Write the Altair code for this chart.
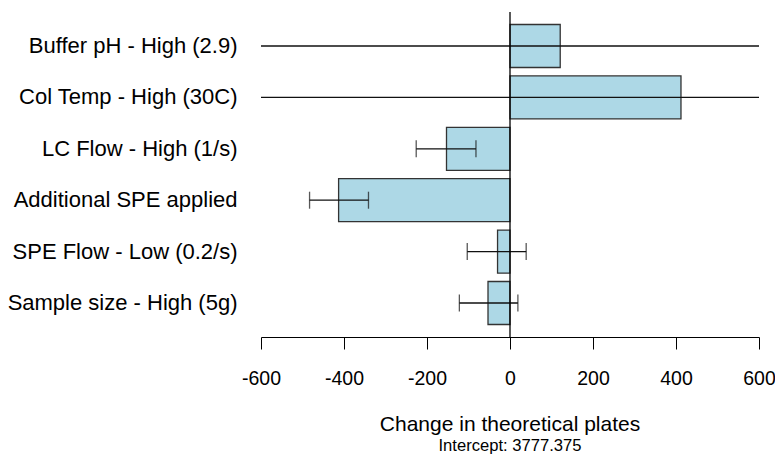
import altair as alt
import pandas as pd

categories = [
    "Buffer pH - High (2.9)",
    "Col Temp - High (30C)",
    "LC Flow - High (1/s)",
    "Additional SPE applied",
    "SPE Flow - Low (0.2/s)",
    "Sample size - High (5g)",
]
effects = [121, 412, -153, -413, -30, -53]
lower = [-900, -700, -226, -483, -103, -122]
upper = [1140, 1520, -82, -341, 39, 19]
x_ticks = [-600, -400, -200, 0, 200, 400, 600]

df = pd.DataFrame({"factor": categories, "effect": effects, "lo": lower, "hi": upper})

FONT = "Liberation Sans"
W, H = 498, 325

x_scale = alt.Scale(domain=[-600, 600], nice=False, zero=False)
y_scale = alt.Scale(paddingInner=0.163, paddingOuter=0.243)
y_axis = alt.Axis(
    title=None, domain=False, ticks=False, grid=False, labelPadding=24,
    labelFontSize=22, labelFont=FONT, labelColor="black", labelLimit=400,
)
x_axis = alt.Axis(
    title=None, values=x_ticks, grid=False, tickSize=12, tickColor="black",
    domainColor="black", labelFontSize=19.5, labelFont=FONT, labelColor="black",
    labelPadding=20, tickWidth=1, domainWidth=1, labelFlush=False,
    labelExpr="'' + datum.value",
)
y_enc = alt.Y("factor:N", sort=categories, scale=y_scale, axis=y_axis)

base = alt.Chart(df)

bars = base.mark_bar(color="#ADD8E6", stroke="#333333", strokeWidth=1.3).encode(
    x=alt.X("effect:Q", scale=x_scale, axis=x_axis),
    y=y_enc,
)

err = base.mark_rule(color="#111111", strokeWidth=1.3, clip=True).encode(
    x=alt.X("lo:Q", scale=x_scale, axis=x_axis),
    x2="hi:Q",
    y=y_enc,
)

cap_lo = base.mark_tick(color="#111111", thickness=1.3, size=17, clip=True).encode(
    x=alt.X("lo:Q", scale=x_scale, axis=x_axis),
    y=y_enc,
)
cap_hi = base.mark_tick(color="#111111", thickness=1.3, size=17, clip=True).encode(
    x=alt.X("hi:Q", scale=x_scale, axis=x_axis),
    y=y_enc,
)

zero_line = alt.Chart(pd.DataFrame({"z": [0]})).mark_rule(color="black", strokeWidth=1.3).encode(
    x=alt.X("z:Q", scale=x_scale, axis=x_axis),
    y=alt.value(0),
    y2=alt.value(H),
)

chart = (
    alt.layer(bars, err, cap_lo, cap_hi, zero_line)
    .properties(
        width=W,
        height=H,
        autosize=alt.AutoSizeParams(type="none"),
        padding={"left": 253, "top": 4, "right": 16, "bottom": 120},
        title=alt.TitleParams(
            text="Change in theoretical plates",
            subtitle="Intercept: 3777.375",
            orient="bottom",
            anchor="middle",
            fontSize=21,
            subtitleFontSize=16.6,
            font=FONT,
            subtitleFont=FONT,
            fontWeight="normal",
            color="black",
            subtitleColor="black",
            offset=26,
            subtitlePadding=3,
        ),
    )
    .configure(background="white")
    .configure_view(strokeWidth=0, stroke="transparent")
)

chart.save("out.html", embed_options={"renderer": "svg", "actions": False})
